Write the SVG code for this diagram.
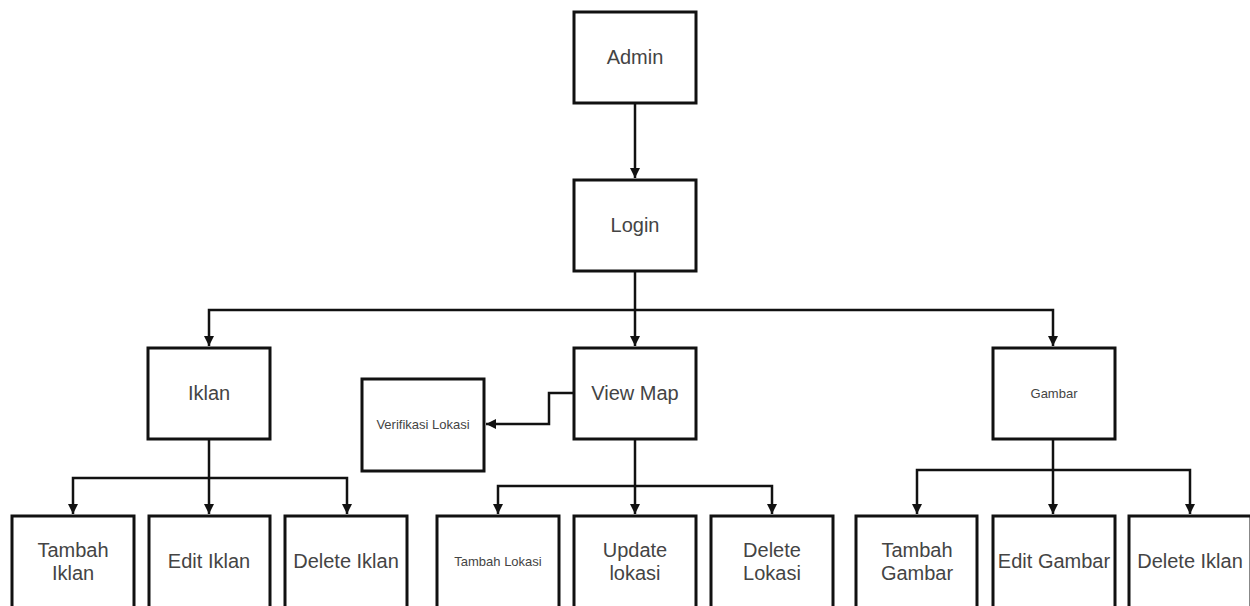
<svg xmlns="http://www.w3.org/2000/svg" width="1250" height="606" viewBox="0 0 1250 606">
<defs>
<style>
.box{fill:#fff;stroke:#111;stroke-width:3}
.t{font-family:"Liberation Sans",Arial,sans-serif;font-size:20px;fill:#444;text-anchor:middle}
.s{font-family:"Liberation Sans",Arial,sans-serif;font-size:13px;fill:#444;text-anchor:middle}
.c{fill:none;stroke:#111;stroke-width:2.5}
</style>
<marker id="a" viewBox="0 0 10 10" refX="10" refY="5" markerWidth="4" markerHeight="4" orient="auto" markerUnits="strokeWidth">
<path d="M0,0 L10,5 L0,10 z" fill="#111"/>
</marker>
</defs>
<rect width="1250" height="606" fill="#fff"/>
<g id="connectors">
<path class="c" d="M635,103 V178" marker-end="url(#a)"/>
<path class="c" d="M635,271 V346" marker-end="url(#a)"/>
<path class="c" d="M635,310 H209 V346" marker-end="url(#a)"/>
<path class="c" d="M635,310 H1053 V346" marker-end="url(#a)"/>
<path class="c" d="M574,393 H549 V424 H486" marker-end="url(#a)"/>
<path class="c" d="M209,439 V514" marker-end="url(#a)"/>
<path class="c" d="M209,478 H73 V514" marker-end="url(#a)"/>
<path class="c" d="M209,478 H347 V514" marker-end="url(#a)"/>
<path class="c" d="M635,439 V514" marker-end="url(#a)"/>
<path class="c" d="M635,486 H498 V514" marker-end="url(#a)"/>
<path class="c" d="M635,486 H772 V514" marker-end="url(#a)"/>
<path class="c" d="M1053,439 V514" marker-end="url(#a)"/>
<path class="c" d="M1053,470 H917 V514" marker-end="url(#a)"/>
<path class="c" d="M1053,470 H1190 V514" marker-end="url(#a)"/>
</g>
<g id="admin"><rect class="box" x="574" y="12" width="122" height="91"/><text class="t" x="635" y="64">Admin</text></g>
<g id="login"><rect class="box" x="574" y="180" width="122" height="91"/><text class="t" x="635" y="232">Login</text></g>
<g id="iklan"><rect class="box" x="148" y="348" width="122" height="91"/><text class="t" x="209" y="400">Iklan</text></g>
<g id="viewmap"><rect class="box" x="574" y="348" width="122" height="91"/><text class="t" x="635" y="400">View Map</text></g>
<g id="verifikasi"><rect class="box" x="362" y="379" width="122" height="92"/><text class="s" x="423" y="429">Verifikasi Lokasi</text></g>
<g id="gambar"><rect class="box" x="993" y="348" width="122" height="91"/><text class="s" x="1054" y="398">Gambar</text></g>
<g id="tambahiklan"><rect class="box" x="12" y="516" width="122" height="100"/><text class="t" x="73" y="557">Tambah</text><text class="t" x="73" y="580">Iklan</text></g>
<g id="editiklan"><rect class="box" x="149" y="516" width="121" height="100"/><text class="t" x="209" y="568">Edit Iklan</text></g>
<g id="deleteiklan"><rect class="box" x="285" y="516" width="122" height="100"/><text class="t" x="346" y="568">Delete Iklan</text></g>
<g id="tambahlokasi"><rect class="box" x="437" y="516" width="122" height="100"/><text class="s" x="498" y="566">Tambah Lokasi</text></g>
<g id="updatelokasi"><rect class="box" x="574" y="516" width="122" height="100"/><text class="t" x="635" y="557">Update</text><text class="t" x="635" y="580">lokasi</text></g>
<g id="deletelokasi"><rect class="box" x="711" y="516" width="122" height="100"/><text class="t" x="772" y="557">Delete</text><text class="t" x="772" y="580">Lokasi</text></g>
<g id="tambahgambar"><rect class="box" x="856" y="516" width="121" height="100"/><text class="t" x="917" y="557">Tambah</text><text class="t" x="917" y="580">Gambar</text></g>
<g id="editgambar"><rect class="box" x="993" y="516" width="122" height="100"/><text class="t" x="1054" y="568">Edit Gambar</text></g>
<g id="deleteiklan2"><rect class="box" x="1129" y="516" width="122" height="100"/><text class="t" x="1190" y="568">Delete Iklan</text></g>
</svg>
